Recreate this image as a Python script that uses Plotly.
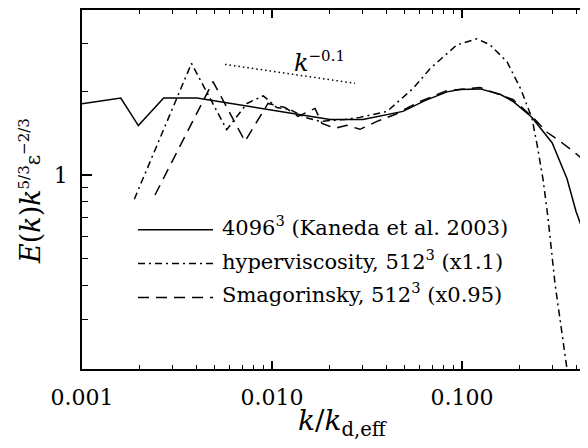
import plotly.graph_objects as go

# ---- data ----
k_dns = [0.00100, 0.00160, 0.00198, 0.00269, 0.00403, 0.00765, 0.0140, 0.0202, 0.0301,
         0.0489, 0.0638, 0.0834, 0.0975, 0.1245, 0.1585, 0.185, 0.233, 0.298, 0.357, 0.398, 0.46, 0.55]
E_dns = [1.81, 1.90, 1.51, 1.90, 1.90, 1.77, 1.66, 1.59, 1.59,
         1.70, 1.86, 2.00, 2.04, 2.05, 1.96, 1.85, 1.62, 1.31, 0.97, 0.74, 0.56, 0.38]

k_hyp = [0.001885, 0.003769, 0.005777, 0.007385, 0.00900, 0.01059, 0.01244, 0.01492, 0.01789,
         0.02423, 0.02904, 0.03484, 0.04030, 0.05523, 0.06786, 0.09412, 0.1199, 0.1404, 0.1725,
         0.2044, 0.2336, 0.2481, 0.2669, 0.2836, 0.3087, 0.3569, 0.370]
E_hyp = [0.818, 2.535, 1.460, 1.816, 1.935, 1.756, 1.727, 1.617, 1.564,
         1.590, 1.617, 1.657, 1.699, 2.056, 2.426, 2.960, 3.111, 2.960, 2.571,
         2.039, 1.603, 1.293, 0.967, 0.700, 0.405, 0.199, 0.167]

k_sma = [0.002422, 0.004893, 0.007208, 0.009526, 0.0117, 0.01370, 0.01684, 0.01833, 0.02146,
         0.02481, 0.02904, 0.03569, 0.04440, 0.06010, 0.0834, 0.1245, 0.1853, 0.2364, 0.2802,
         0.3280, 0.3839, 0.46, 0.532]
E_sma = [0.847, 2.178, 1.325, 1.816, 1.756, 1.630, 1.742, 1.538, 1.476,
         1.513, 1.464, 1.564, 1.657, 1.846, 2.022, 2.073, 1.877, 1.617, 1.428,
         1.325, 1.220, 1.100, 1.03]

k_slope = [0.00566, 0.02735]
E_slope = [2.514, 2.147]

x_tick_vals = [0.001, 0.01, 0.1]
x_tick_text = ["0.001", "0.010", "0.100"]
y_tick_vals = [1]
y_tick_text = ["1"]

legend_labels = ["4096<sup>3</sup> (Kaneda et al. 2003)",
                 "hyperviscosity, 512<sup>3</sup> (x1.1)",
                 "Smagorinsky, 512<sup>3</sup> (x0.95)"]

FONT = "DejaVu Serif"
# page has an 8px body margin; figure occupies page (8,8)-(588,448)
OFF = 8
W, H = 580, 440
L, R, T, B = 74, 0, 0, 79
pw, ph = W - L - R, H - T - B
DEC = 190.0     # px per decade in x
DECY = 278.0    # px per decade in y
Y1 = 174        # page y of E=1

def px(x):          # page x -> paper
    return (x - OFF - L) / pw

def py(y):          # page y -> paper
    return (OFF + T + ph - y) / ph

DOTDASH = "7px,4px,2px,4px"
DASH = "11px,7px"

fig = go.Figure()
fig.add_trace(go.Scatter(x=k_dns, y=E_dns, mode="lines",
                         line=dict(color="black", width=1.5), showlegend=False))
fig.add_trace(go.Scatter(x=k_hyp, y=E_hyp, mode="lines",
                         line=dict(color="black", width=1.5, dash=DOTDASH), showlegend=False))
fig.add_trace(go.Scatter(x=k_sma, y=E_sma, mode="lines",
                         line=dict(color="black", width=1.5, dash=DASH), showlegend=False))
fig.add_trace(go.Scatter(x=k_slope, y=E_slope, mode="lines",
                         line=dict(color="black", width=1.5, dash="1.5px,3px"), showlegend=False))

minor_x = [m * d for d in (0.001, 0.01, 0.1) for m in range(2, 10)]
minor_y = [0.2, 0.3, 0.4, 0.5, 0.6, 0.7, 0.8, 0.9, 2, 3, 4]

y_top_page = OFF + T
y_bot_page = OFF + T + ph
fig.update_xaxes(type="log", range=[-3, -3 + pw / DEC],
                 showline=True, linecolor="black", linewidth=1.8, mirror="ticks",
                 ticks="inside", ticklen=8, tickwidth=1.5, tickcolor="black",
                 tickmode="array", tickvals=x_tick_vals, ticktext=x_tick_text,
                 ticklabelstandoff=8,
                 minor=dict(tickmode="array", tickvals=minor_x, ticks="inside", ticklen=4,
                            tickwidth=1.2, tickcolor="black", showgrid=False),
                 showgrid=False, zeroline=False,
                 tickfont=dict(family=FONT, size=22, color="black"))
fig.update_yaxes(type="log", range=[-(y_bot_page - Y1) / DECY, (Y1 - y_top_page) / DECY],
                 showline=True, linecolor="black", linewidth=1.8,
                 ticks="inside", ticklen=10, tickwidth=1.5, tickcolor="black",
                 tickmode="array", tickvals=y_tick_vals, ticktext=y_tick_text,
                 ticklabelstandoff=8,
                 minor=dict(tickmode="array", tickvals=minor_y, ticks="inside", ticklen=6,
                            tickwidth=1.2, tickcolor="black", showgrid=False),
                 showgrid=False, zeroline=False,
                 tickfont=dict(family=FONT, size=22, color="black"))

annotations = [
    dict(x=px(343), y=py(423), xref="paper", yref="paper", showarrow=False,
         text="<i>k</i>/<i>k</i><sub>d,eff</sub>", font=dict(family=FONT, size=28, color="black"),
         xanchor="center", yanchor="middle"),
    dict(x=px(31), y=py(190), xref="paper", yref="paper", showarrow=False, textangle=-90,
         text=("<i>E</i>(<i>k</i>)<i>k</i><sup><span style='font-size:15px'>5/3</span></sup>"
               "<span style='font-size:20px'>ε</span>"
               "<sup><span style='font-size:15px'>−2/3</span></sup>"),
         font=dict(family=FONT, size=27, color="black"), xanchor="center", yanchor="middle"),
    dict(x=px(292), y=py(60), xref="paper", yref="paper", showarrow=False,
         text="<i>k</i><sup><span style='font-size:15px'>−0.1</span></sup>",
         font=dict(family=FONT, size=24, color="black"),
         xanchor="left", yanchor="middle"),
]
shapes = []
for i, (lab, dash) in enumerate(zip(legend_labels, ["solid", DOTDASH, DASH])):
    yy = 229 + 34 * i
    shapes.append(dict(type="line", xref="paper", yref="paper", x0=px(138), x1=px(213),
                       y0=py(yy), y1=py(yy), line=dict(color="black", width=1.5, dash=dash)))
    annotations.append(dict(x=px(220), y=py(yy - 4), xref="paper", yref="paper", showarrow=False,
                            text=lab, font=dict(family=FONT, size=21, color="black"),
                            xanchor="left", yanchor="middle"))

fig.update_layout(width=W, height=H, margin=dict(l=L, r=R, t=T, b=B),
                  paper_bgcolor="white", plot_bgcolor="white",
                  annotations=annotations, shapes=shapes, showlegend=False)
fig.write_html("out.html")
